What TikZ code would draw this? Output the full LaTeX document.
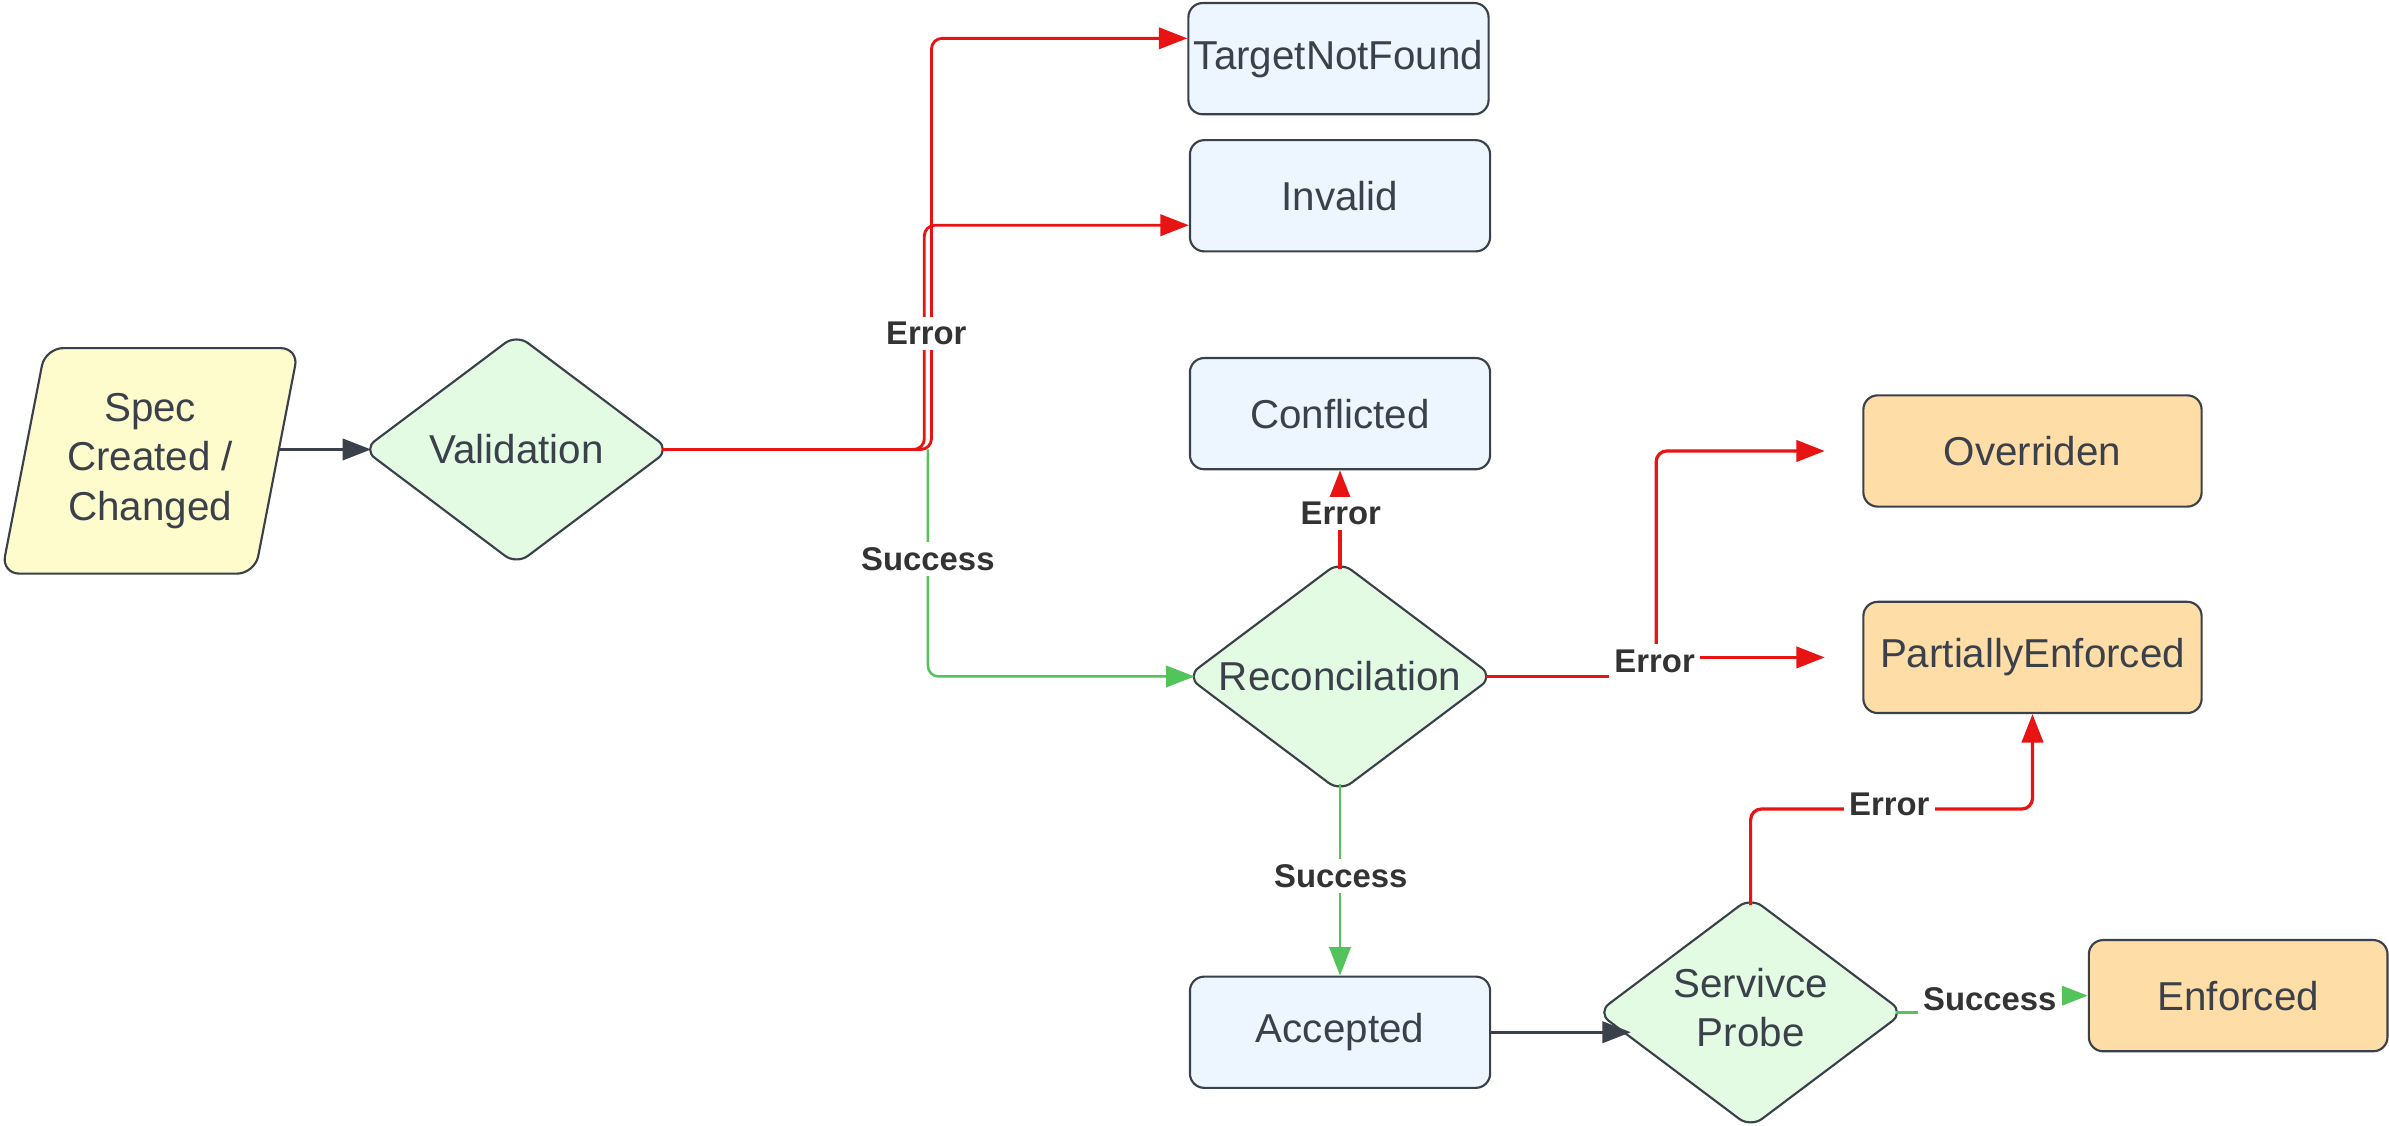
\documentclass[tikz,border=0pt]{standalone}
\usepackage{fontspec}
\setmainfont{Liberation Sans}
\usepackage{xcolor}
\usetikzlibrary{shapes.geometric}
\usetikzlibrary{arrows.meta}
\usetikzlibrary{calc}
\definecolor{lineGray}{RGB}{58,65,74}
\definecolor{labelGray}{RGB}{51,51,51}
\definecolor{errRed}{RGB}{232,19,19}
\definecolor{okGreen}{RGB}{82,196,91}
\definecolor{specYellow}{RGB}{254,251,204}
\definecolor{stateBlue}{RGB}{237,245,255}
\definecolor{checkGreen}{RGB}{227,250,227}
\definecolor{endOrange}{RGB}{255,221,166}
\newcommand\nodefont{\fontsize{11.3}{13.8}\selectfont}
\newcommand\lblfont{\fontsize{9.2}{11}\selectfont\bfseries}

\begin{document}
\begin{tikzpicture}[x=0.015cm,y=-0.015cm,
  state/.style={draw=lineGray, fill=stateBlue, line width=0.6pt, rounded corners=4pt,
    minimum width=2.955cm, minimum height=1.095cm, inner sep=0pt, font=\nodefont, text=lineGray},
  final/.style={state, fill=endOrange, minimum width=3.33cm},
  check/.style={diamond, draw=lineGray, fill=checkGreen, line width=0.6pt, rounded corners=4pt,
    minimum width=2.97cm, minimum height=2.22cm, inner sep=0pt, outer sep=-1.5pt, font=\nodefont, text=lineGray},
  input/.style={trapezium, trapezium left angle=76, trapezium right angle=104, trapezium stretches=true,
    draw=lineGray, fill=specYellow, line width=0.6pt, rounded corners=5pt,
    minimum width=2.94cm, minimum height=2.22cm, align=center, font=\nodefont, text=lineGray},
  lbl/.style={fill=white, inner sep=1.5pt, font=\lblfont, text=labelGray},
  tip/.style={-{Triangle[length=0.28cm,width=0.21cm]}},
  flow/.style={draw=lineGray, line width=0.8pt, tip},
  err/.style={draw=errRed, line width=0.9pt, rounded corners=3pt, tip},
  ok/.style={draw=okGreen, line width=0.8pt, rounded corners=3pt, tip},
]
\useasboundingbox (0,0) rectangle (1568,738.4);

% states
\node [input] (spec) at (98.5,302.5) {Spec\\Created /\\Changed};
\node [check] (val) at (339,295) {\makebox[0pt]{Validation}};
\node [state] (tnf) at (878.5,38.5) {TargetNotFound};
\node [state] (inv) at (879.5,128.5) {Invalid};
\node [state] (conf) at (879.5,271.5) {Conflicted};
\node [check] (rec) at (879.5,444) {\makebox[0pt]{Reconcilation}};
\node [state] (acc) at (879.5,677.5) {Accepted};
\node [check] (probe) at (1149,664.5) {\makebox[0pt]{\begin{tabular}{@{}c@{}}Servivce\\Probe\end{tabular}}};
\node [final] (over) at (1334,296) {Overriden};
\node [final] (part) at (1334,431.5) {PartiallyEnforced};
\node [final, minimum width=2.94cm] (enf) at (1469,653.5) {Enforced};

\coordinate (vjunc) at (609,295);
\coordinate (rjunc) at (1087,431.5);
\coordinate (pbend) at (1334,531);

% connectors
\draw [flow] (spec.east |- val.west) -- (val.west);
\draw [err, line width=0.8pt] (val.east) -- ([xshift=-1pt]vjunc) |- ([yshift=-0.29cm]inv.west);
\draw [err, line width=0.8pt] (val.east) -- ([xshift=1pt]vjunc) |- ([yshift=0.2cm]tnf.west);
\draw [ok, line width=0.7pt] (vjunc) |- (rec.west);
\draw [err] (rec.north) -- (conf.south);
\draw [err, rounded corners=0pt] (rec.east) -- (rjunc |- rec.east) -- (rjunc) -- (part.west) [shorten >=0.37cm];
\draw [err, shorten >=0.37cm] (rjunc) |- (over.west);
\draw [ok] (rec.south) -- (acc.north);
\draw [flow] (acc.east) -- (acc.east -| probe.189);
\draw [err] (probe.north) |- (pbend) -- (part.south);
\draw [ok, rounded corners=0pt] (probe.east) -- (1300,664.5) -- (1300,653.5) -- (enf.west);

% labels
\node [lbl] (lerr1) at (608,219) {Error};
\node [lbl] (lok1) at (609,367) {Success};
\node [lbl] (lerr2) at (880,337) {Error};
\node [lbl] (lerr3) at (1086,434) {Error};
\node [lbl] (lok2) at (880,575) {Success};
\node [lbl] (lerr4) at (1240,528) {Error};
\node [lbl] (lok3) at (1306,656) {Success};
\end{tikzpicture}
\end{document}
